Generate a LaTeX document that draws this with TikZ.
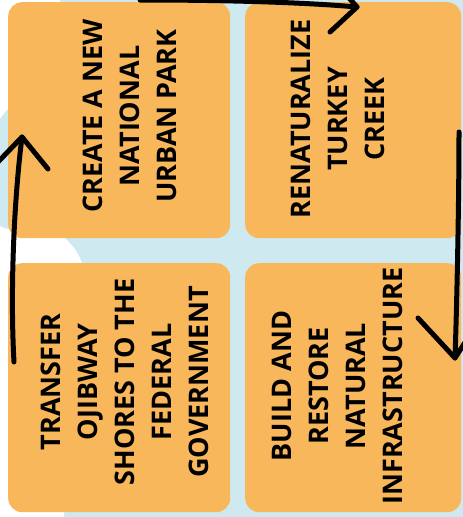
\documentclass[tikz,border=0pt]{standalone}
\usepackage{fontspec}
\setmainfont{Open Sans}
\definecolor{boxorange}{RGB}{249,183,92}
\definecolor{bgblue}{RGB}{206,233,239}
\begin{document}
\begin{tikzpicture}[x=1pt,y=-1pt,
  box/.style={draw=none, fill=boxorange, rounded corners=14pt, inner sep=0pt, anchor=north west},
  txt/.style={rotate=90, align=center, inner sep=0pt, text=black,
    font=\fontsize{27}{37}\selectfont\bfseries},
  arr/.style={line width=5pt, line cap=round, line join=round, draw=black}]
\useasboundingbox (0,0) rectangle (463,517);
\fill[white] (0,0) rectangle (463,517);
% light blue background shapes
\fill[bgblue] (60,-2) -- (465,-2) -- (465,519) -- (64,519)
  .. controls (70,400) and (90,290) .. (82,263)
  .. controls (78,250) and (70,243) .. (65,238)
  .. controls (58,200) and (56,100) .. (60,-2) -- cycle;
\fill[bgblue] (-2,122) .. controls (2,116) and (6,110) .. (12,106)
  -- (40,106) -- (40,226) -- (12,229) .. controls (6,229) and (2,227) .. (-2,225) -- cycle;
% boxes
\node[box, minimum width=222pt, minimum height=236pt] (b1) at (8,2) {};
\node[box, minimum width=216pt, minimum height=236pt] (b2) at (245,2) {};
\node[box, minimum width=222pt, minimum height=249pt] (b3) at (8,263) {};
\node[box, minimum width=216pt, minimum height=249pt] (b4) at (245,263) {};
% texts
\node[txt] (t1) at (130,116) {CREATE A NEW\\NATIONAL\\URBAN PARK};
\node[txt] (t2) at (338,119) {RENATURALIZE\\TURKEY\\CREEK};
\node[txt] (t3) at (124.5,382) {TRANSFER\\OJIBWAY\\SHORES TO THE\\FEDERAL\\GOVERNMENT};
\node[txt] (t4) at (337.5,386) {BUILD AND\\RESTORE\\NATURAL\\INFRASTRUCTURE};
% arrows
\coordinate (l0) at (14,362);
\coordinate (l1) at (22,137);
\draw[arr] (l0) .. controls (10,290) and (14,200) .. (l1);
\draw[arr] (-2,162) -- (l1) -- (48,169);
\coordinate (u0) at (140,0);
\coordinate (u1) at (357,7);
\draw[arr] (u0) .. controls (220,0) and (300,2) .. (u1);
\draw[arr] (330,32) -- (u1) -- (335,-18);
\coordinate (r0) at (459,132);
\coordinate (r1) at (455,358);
\draw[arr] (r0) .. controls (459,200) and (457,300) .. (r1);
\draw[arr] (418,318) -- (r1) -- (478,322);
\end{tikzpicture}
\end{document}
